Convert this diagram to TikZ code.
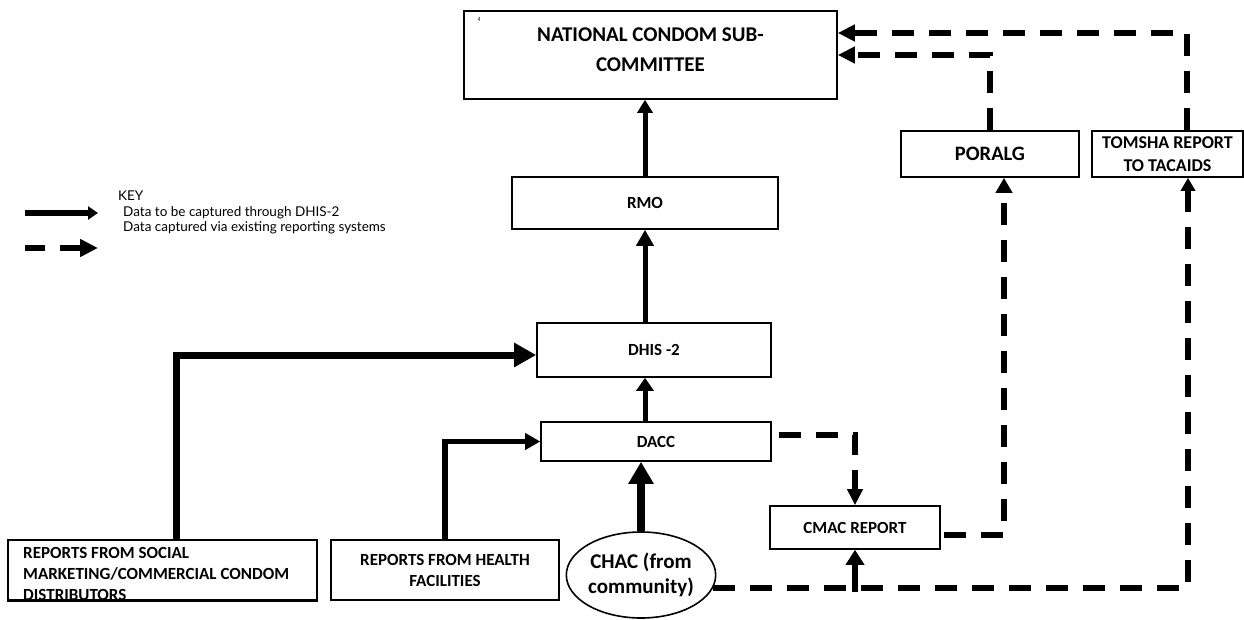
\documentclass[tikz,border=0pt]{standalone}
\usepackage{fontspec}
\setmainfont{Carlito}
\newfontfamily\keyfont{Lato}
\usetikzlibrary{arrows.meta,shapes.geometric}
\begin{document}
\begin{tikzpicture}[x=1pt,y=-1pt,
  box/.style={draw, line width=1.6pt, inner sep=0pt, align=center, font=\bfseries\fontsize{17}{21}\selectfont},
  dsh/.style={line width=6pt, dash pattern=on 22pt off 15pt},
  keytext/.style={anchor=base west, inner sep=0pt, font=\keyfont\fontsize{13.5}{16}\selectfont}]
\useasboundingbox (0,0) rectangle (1244,620);
% nodes
\node[box, minimum width=373pt, minimum height=88pt] (ncs) at (650.5,55) {};
\node[align=center, inner sep=0pt, font=\bfseries\fontsize{21}{30}\selectfont] (ncstext) at (650.5,49.5) {NATIONAL CONDOM SUB-\\COMMITTEE};
\node[inner sep=0pt, font=\fontsize{14}{14}\selectfont] (tick) at (479,22) {\symbol{96}};
\node[box, minimum width=266pt, minimum height=52pt] (rmo) at (645,203) {RMO};
\node[box, minimum width=234pt, minimum height=54pt] (dhis) at (654,350) {DHIS -2};
\node[box, minimum width=230pt, minimum height=39pt] (dacc) at (656,441.5) {DACC};
\node[box, minimum width=170pt, minimum height=43pt] (cmac) at (855,527.5) {CMAC REPORT};
\node[box, minimum width=178pt, minimum height=46pt, font=\bfseries\fontsize{20.5}{24}\selectfont] (poralg) at (990,154) {PORALG};
\node[box, minimum width=151pt, minimum height=46pt, font=\bfseries\fontsize{18}{23}\selectfont] (tomsha) at (1167.5,154) {TOMSHA REPORT\\TO TACAIDS};
\node[box, minimum width=309pt, minimum height=60pt] (social) at (162.5,570) {};
\node[anchor=north west, align=left, inner sep=0pt, font=\bfseries\fontsize{17}{21}\selectfont] (soctext) at (23,547) {REPORTS FROM SOCIAL\\MARKETING/COMMERCIAL CONDOM\\DISTRIBUTORS};
\draw[line width=1.6pt] (social.south west) -- (social.south east);
\node[box, minimum width=228pt, minimum height=60pt] (health) at (445,570) {REPORTS FROM HEALTH\\FACILITIES};
\node[draw, ellipse, line width=1.6pt, minimum width=148pt, minimum height=86pt, inner sep=0pt, align=center, font=\bfseries\fontsize{21}{25}\selectfont] (chac) at (641,575) {CHAC (from\\community)};
% solid connectors
\draw[line width=5pt, -{Triangle[length=13pt,width=15pt]}] (rmo.north) -- (rmo.north |- ncs.south);
\draw[line width=5pt, -{Triangle[length=16pt,width=17pt]}] (rmo.south |- dhis.north) -- (rmo.south);
\draw[line width=5pt, -{Triangle[length=13pt,width=17pt]}] (rmo.south |- dacc.north) -- (rmo.south |- dhis.south);
\draw[line width=8pt, -{Triangle[length=22pt,width=24pt]}] (chac.north) -- (chac.north |- dacc.south);
\draw[line width=7pt, -{Triangle[length=22pt,width=23pt]}] ([xshift=13.5pt]social.north) |- ([yshift=-5pt]dhis.west);
\draw[line width=5.5pt, -{Triangle[length=15pt,width=16pt]}] (health.north) |- (dacc.west);
\coordinate (j) at (cmac.south |- chac.-10);
\draw[line width=6pt, -{Triangle[length=15pt,width=18pt]}] ([yshift=-4pt]j) -- (cmac.south);
% dashed connectors
\draw[dsh, -{Triangle[length=16pt,width=15pt]}] ([xshift=7pt,yshift=6.5pt]dacc.east) -| (cmac.north);
\draw[dsh, -{Triangle[length=15pt,width=16pt]}] ([xshift=3pt,yshift=-7.5pt]cmac.east) -| ([xshift=14pt]poralg.south);
\draw[dsh, -{Triangle[length=17pt,width=16pt]}] (poralg.north) |- (ncs.east);
\draw[dsh, -{Triangle[length=17pt,width=16pt]}] ([xshift=19.5pt]tomsha.north) |- ([yshift=22pt]ncs.east);
\draw[dsh, -{Triangle[length=13pt,width=14pt]}] (chac.-10) -| ([xshift=20.5pt]tomsha.south);
% key
\node[keytext] (keyt) at (118,201) {KEY};
\node[keytext] (k1) at (123,217) {Data to be captured through DHIS-2};
\node[keytext] (k2) at (123,232) {Data captured via existing reporting systems};
\coordinate (ka1) at (25,213);
\coordinate (kb1) at (98,213);
\draw[line width=6pt, -{Triangle[length=10pt,width=13pt]}] (ka1) -- (kb1);
\coordinate (ka2) at (25,248);
\coordinate (kb2) at (98,248);
\draw[line width=6pt, dash pattern=on 20pt off 15pt, -{Triangle[length=18pt,width=17pt]}] (ka2) -- (kb2);
\end{tikzpicture}
\end{document}
